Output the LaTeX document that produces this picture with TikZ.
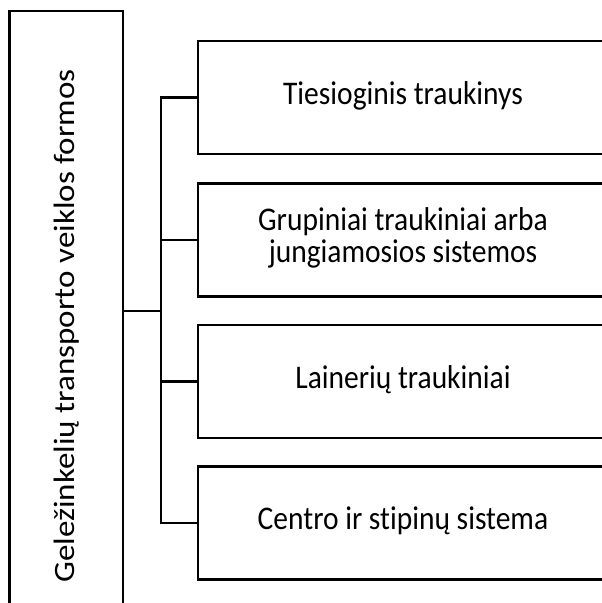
\documentclass[tikz,border=0pt]{standalone}
\usepackage{graphicx}
\usepackage{fontspec}
\setmainfont{Carlito}[Ligatures={NoCommon}]
% labels are set slightly taller than wide
\newcommand{\tallText}[1]{\scalebox{1}[1.12]{\begin{tabular}{@{}c@{}}#1\end{tabular}}}
\newcommand{\longText}[1]{\scalebox{1.12}[1]{#1}}
\begin{document}
\begin{tikzpicture}[x=1pt,y=1pt,
  formbox/.style={draw=black, line width=2.2pt, minimum width=410pt, minimum height=113pt,
    align=center, inner sep=0pt, font=\fontsize{29.5}{29}\selectfont},
  mainbox/.style={draw=black, line width=2.2pt, rotate=90, minimum width=630pt,
    minimum height=113.5pt, inner sep=0pt, font=\fontsize{29.5}{29}\selectfont},
  link/.style={draw=black, line width=2.2pt}]
  \useasboundingbox (0,0) rectangle (602,-603);
  \clip (0,0) rectangle (602,-603);
  % main category, rotated label
  \node[mainbox] (main) at (66.25,-326) {\longText{Geležinkelių transporto veiklos formos}};
  % operation forms
  \node[formbox] (b1) at (403,-97.5) {\tallText{Tiesioginis traukinys}};
  \node[formbox] (b2) at (403,-240) {\tallText{Grupiniai traukiniai arba\\jungiamosios sistemos}};
  \node[formbox] (b3) at (403,-381.5) {\tallText{Lainerių traukiniai}};
  \node[formbox] (b4) at (403,-523) {\tallText{Centro ir stipinų sistema}};
  % bracket connector
  \coordinate (hub) at (161,-310.7);
  \draw[link] (hub -| main.south) -- (hub);
  \draw[link] (b1.west) -| (hub);
  \draw[link] (b2.west) -| (hub);
  \draw[link] (b3.west) -| (hub);
  \draw[link] (b4.west) -| (hub);
\end{tikzpicture}
\end{document}
